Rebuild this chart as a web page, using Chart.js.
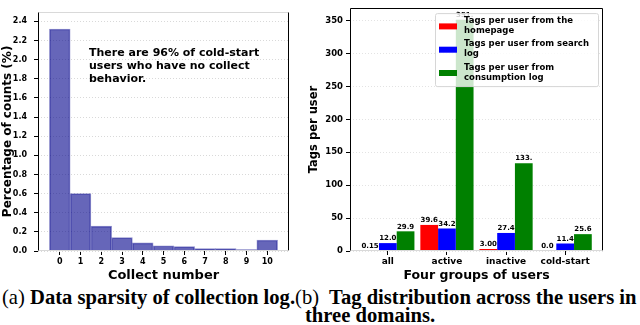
<!DOCTYPE html>
<html>
<head>
<meta charset="utf-8">
<script src="https://cdn.jsdelivr.net/npm/chart.js@4.4.1/dist/chart.umd.min.js"></script>
<style>
body{margin:0;background:#fff;width:640px;height:325px;overflow:hidden;position:relative}
canvas{position:absolute;top:0}
#left{left:0}
#right{left:300px}
.cap{position:absolute;font-family:"Liberation Serif",serif;font-weight:bold;font-size:20px;white-space:nowrap;line-height:18px;color:#000}
.cap span{font-weight:normal}
</style>
</head>
<body>
<canvas id="left" width="300" height="285"></canvas>
<canvas id="right" width="340" height="285"></canvas>
<div class="cap" id="cap1" style="left:2px;top:288px"><span>(a)</span> Data sparsity of collection log.<span>(b)</span>&nbsp; Tag distribution across the users in</div>
<div class="cap" id="cap2" style="left:305px;top:306px">three domains.</div>
<script>
// (a) histogram of collect number
var collectNumbers = [0, 1, 2, 3, 4, 5, 6, 7, 8, 9, 10];
var collectPercent = [2.32, 0.60, 0.26, 0.14, 0.085, 0.055, 0.045, 0.025, 0.025, 0.015, 0.115];
var percentTicks = [0, 0.2, 0.4, 0.6, 0.8, 1.0, 1.2, 1.4, 1.6, 1.8, 2.0, 2.2, 2.4];

// (b) tags per user
var userGroups = ['all', 'active', 'inactive', 'cold-start'];
var homepageTags = [0.15, 39.6, 3.004, 0.0];
var searchTags = [12.0, 34.2, 27.4, 11.4];
var consumptionTags = [29.9, 351.2, 133.4, 25.6];
var tagTicks = [0, 50, 100, 150, 200, 250, 300, 350];
var seriesLabels = ['Tags per user from the\nhomepage', 'Tags per user from search\nlog', 'Tags per user from\nconsumption log'];
var seriesColors = ['#ff0000', '#0000ff', '#008000'];

Chart.defaults.font.family = '"DejaVu Sans"';
Chart.defaults.color = '#000';
Chart.defaults.animation = false;

function fmt(v){
	if (Number.isInteger(v)) return v.toFixed(1);
	return String(v).slice(0, 4);
}

// spines of the axes box
var framePlugin = {
	id: 'frame',
	afterDatasetsDraw: function(chart, args, opts){
		var a = chart.chartArea, ctx = chart.ctx;
		var l = Math.round(a.left) + 0.5, r = Math.round(a.right) - 0.5, t = Math.round(a.top) + 0.5, b = Math.round(a.bottom) - 0.5;
		var sides = [['top', l, t, r, t], ['right', r, t, r, b], ['bottom', l, b, r, b], ['left', l, t, l, b]];
		ctx.save();
		ctx.lineWidth = 1;
		sides.forEach(function(s){
			ctx.strokeStyle = opts[s[0]];
			ctx.beginPath();
			ctx.moveTo(s[1], s[2]);
			ctx.lineTo(s[3], s[4]);
			ctx.stroke();
		});
		ctx.restore();
	}
};

var notePlugin = {
	id: 'note',
	afterDraw: function(chart){
		var ctx = chart.ctx;
		var lines = ['There are 96% of cold-start', 'users who have no collect', 'behavior.'];
		ctx.save();
		ctx.font = 'bold 11px "DejaVu Sans"';
		ctx.fillStyle = '#000';
		ctx.textBaseline = 'middle';
		lines.forEach(function(t, i){ ctx.fillText(t, 89, 53 + i * 13); });
		ctx.restore();
	}
};

var valueLabels = {
	id: 'valueLabels',
	afterDatasetsDraw: function(chart){
		var ctx = chart.ctx;
		ctx.save();
		ctx.font = 'bold 7px "DejaVu Sans"';
		ctx.textAlign = 'center';
		ctx.textBaseline = 'bottom';
		ctx.fillStyle = '#000';
		chart.data.datasets.forEach(function(ds, i){
			chart.getDatasetMeta(i).data.forEach(function(bar, j){
				ctx.fillText(fmt(ds.data[j].y), bar.x, bar.y - 1);
			});
		});
		ctx.restore();
	}
};

var boxLegend = {
	id: 'boxLegend',
	afterDraw: function(chart){
		var ctx = chart.ctx, a = chart.chartArea;
		var bx = a.left + 85, by = a.top + 5, bw = 163, bh = 73;
		ctx.save();
		ctx.beginPath();
		ctx.roundRect(bx + 0.5, by + 0.5, bw, bh, 2);
		ctx.fillStyle = 'rgba(255,255,255,0.8)';
		ctx.fill();
		ctx.strokeStyle = '#d6d6d6';
		ctx.lineWidth = 1;
		ctx.stroke();
		ctx.font = 'bold 8.5px "DejaVu Sans"';
		ctx.textBaseline = 'middle';
		chart.data.datasets.forEach(function(ds, i){
			var cy = by + 13.3 + i * 23.3;
			ctx.fillStyle = ds.backgroundColor;
			ctx.fillRect(bx + 4, cy - 3, 18, 6);
			ctx.fillStyle = '#000';
			ds.label.split('\n').forEach(function(t, k){
				ctx.fillText(t, bx + 29, cy - 5.5 + k * 10);
			});
		});
		ctx.restore();
	}
};

new Chart(document.getElementById('left'), {
	type: 'bar',
	data: {
		datasets: [{
			data: collectNumbers.map(function(x, i){ return {x: x, y: collectPercent[i]}; }),
			backgroundColor: 'rgba(0,0,139,0.6)',
			borderColor: 'rgba(0,0,139,0.45)',
			borderWidth: 1,
			barPercentage: 1,
			categoryPercentage: 1
		}]
	},
	options: {
		responsive: false,
		layout: {padding: {left: 0, right: 11, top: 1, bottom: 0}},
		plugins: {
			legend: {display: false},
			tooltip: {enabled: false},
			frame: {top: '#d9d9d9', right: '#000', bottom: '#d9d9d9', left: '#000'}
		},
		scales: {
			x: {
				type: 'linear', min: -1.05, max: 11.05, offset: false,
				afterBuildTicks: function(s){ s.ticks = collectNumbers.map(function(v){ return {value: v}; }); },
				afterFit: function(s){ s.height = 34; },
				ticks: {font: {size: 8, weight: 'bold'}, padding: 2, maxRotation: 0},
				grid: {drawOnChartArea: false, tickColor: '#000', tickLength: 4, offset: false},
				border: {display: false},
				title: {display: true, text: 'Collect number', font: {size: 13, weight: 'bold'}, padding: {top: 0, bottom: 2}}
			},
			y: {
				min: 0, max: 2.5,
				afterBuildTicks: function(s){ s.ticks = percentTicks.map(function(v){ return {value: v}; }); },
				afterFit: function(s){ s.width = 38; },
				ticks: {font: {size: 8, weight: 'bold'}, padding: 7, callback: function(v){ return v.toFixed(1); }},
				grid: {color: '#d9d9d9', tickColor: '#000', tickLength: 4},
				border: {display: false, dash: [1, 2]},
				title: {display: true, text: 'Percentage of counts (%)', font: {size: 12, weight: 'bold'}, padding: {top: 1, bottom: 1}}
			}
		}
	},
	plugins: [framePlugin, notePlugin]
});

var tagSeries = [homepageTags, searchTags, consumptionTags];

new Chart(document.getElementById('right'), {
	type: 'bar',
	data: {
		datasets: tagSeries.map(function(vals, i){
			return {
				label: seriesLabels[i],
				data: vals.map(function(y, j){ return {x: j, y: y}; }),
				backgroundColor: seriesColors[i],
				barPercentage: 1,
				categoryPercentage: 0.9
			};
		})
	},
	options: {
		responsive: false,
		layout: {padding: {left: 0, right: 37, top: 6, bottom: 0}},
		plugins: {
			legend: {display: false},
			tooltip: {enabled: false},
			frame: {top: '#000', right: '#000', bottom: '#d9d9d9', left: '#000'}
		},
		scales: {
			x: {
				type: 'linear', min: -0.64, max: 3.64, offset: false,
				afterBuildTicks: function(s){ s.ticks = userGroups.map(function(v, i){ return {value: i}; }); },
				afterFit: function(s){ s.height = 34; },
				ticks: {font: {size: 9, weight: 'bold'}, padding: 1, maxRotation: 0, callback: function(v){ return userGroups[v]; }},
				grid: {drawOnChartArea: false, tickColor: '#000', tickLength: 4, offset: false},
				border: {display: false},
				title: {display: true, text: 'Four groups of users', font: {size: 12.5, weight: 'bold'}, padding: {top: 0, bottom: 2}}
			},
			y: {
				min: 0, max: 369,
				afterBuildTicks: function(s){ s.ticks = tagTicks.map(function(v){ return {value: v}; }); },
				afterFit: function(s){ s.width = 50; },
				ticks: {font: {size: 8.5, weight: 'bold'}, padding: 3},
				grid: {color: '#e3e3e3', tickColor: '#000', tickLength: 4},
				border: {display: false, dash: [1, 2]},
				title: {display: true, text: 'Tags per user', font: {size: 11.5, weight: 'bold'}, padding: {top: 7, bottom: 7}}
			}
		}
	},
	plugins: [framePlugin, valueLabels, boxLegend]
});

// fit caption line to the page width
var cap1 = document.getElementById('cap1'), cap2 = document.getElementById('cap2');
var size = 20 * 635 / cap1.offsetWidth;
cap1.style.fontSize = size + 'px';
cap2.style.fontSize = size + 'px';
</script>
</body>
</html>
